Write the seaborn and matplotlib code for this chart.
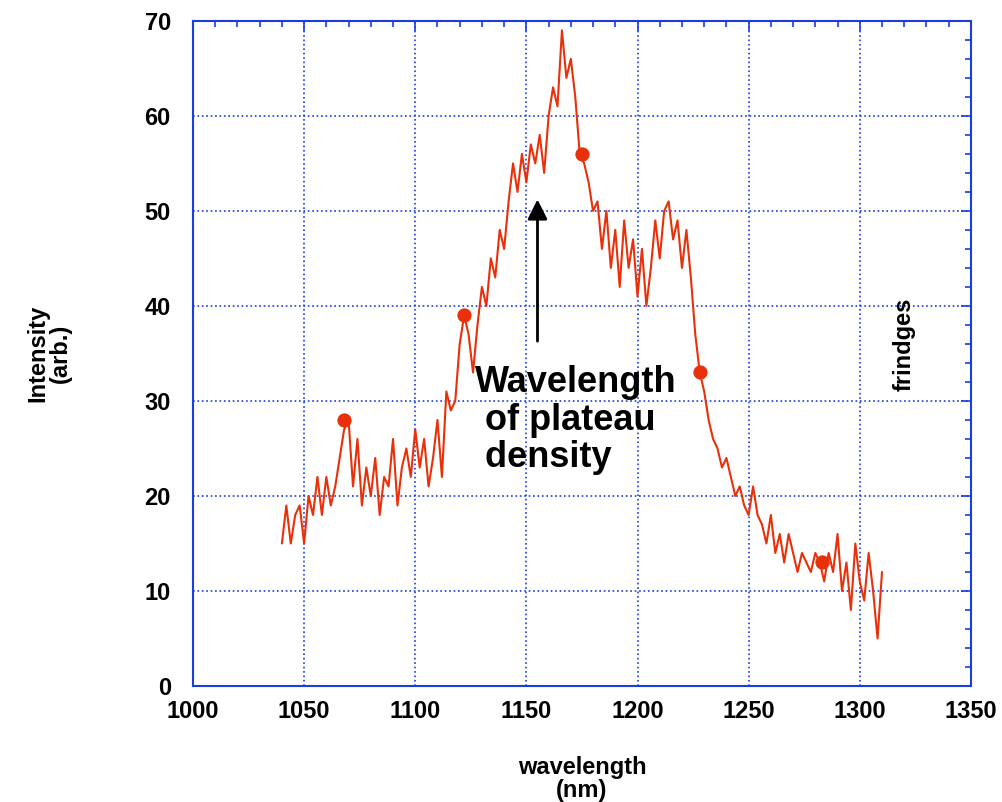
import numpy as np
import pandas as pd
import matplotlib
matplotlib.use('Agg')
import matplotlib.pyplot as plt
import seaborn as sns
from matplotlib.ticker import MultipleLocator

wavelength = np.arange(1040, 1311, 2)
intensity = [15, 19, 15, 18, 19, 15, 20, 18, 22, 18, 22, 19, 21, 24, 27, 28, 21, 26, 19, 23,
             20, 24, 18, 22, 21, 26, 19, 23, 25, 22, 27, 23, 26, 21, 24, 28, 22, 31, 29, 30,
             36, 39, 37, 33, 38, 42, 40, 45, 43, 48, 46, 51, 55, 52, 56, 53, 57, 55, 58, 54,
             60, 63, 61, 69, 64, 66, 62, 56, 55, 53, 50, 51, 46, 50, 44, 48, 42, 49, 44, 47,
             41, 46, 40, 44, 49, 45, 50, 51, 47, 49, 44, 48, 43, 37, 33, 31, 28, 26, 25, 23,
             24, 22, 20, 21, 19, 18, 21, 18, 17, 15, 18, 14, 16, 13, 16, 14, 12, 14, 13, 12,
             14, 13, 11, 14, 12, 16, 10, 13, 8, 15, 11, 9, 14, 10, 5, 12]
marker_x = [1068, 1122, 1175, 1228, 1283]
marker_y = [28, 39, 56, 33, 13]

df = pd.DataFrame({'wavelength': wavelength, 'intensity': intensity})
dfm = pd.DataFrame({'wavelength': marker_x, 'intensity': marker_y})

sns.set_style('white')
plt.rcParams['font.family'] = ['Liberation Sans', 'DejaVu Sans']
plt.rcParams['text.color'] = 'black'
plt.rcParams['axes.labelcolor'] = 'black'
plt.rcParams['xtick.labelcolor'] = 'black'
plt.rcParams['ytick.labelcolor'] = 'black'
fig = plt.figure(figsize=(10.03, 8.02), dpi=100)
ax = fig.add_axes([0.1924, 0.1446, 0.7756, 0.8294])

red = '#e8300a'
blue = '#1a3de0'
sns.lineplot(data=df, x='wavelength', y='intensity', color=red, lw=1.5, ax=ax)
sns.scatterplot(data=dfm, x='wavelength', y='intensity', color=red, s=90, edgecolor=red, ax=ax, zorder=3)

ax.set_xlim(1000, 1350)
ax.set_ylim(0, 70)
ax.xaxis.set_major_locator(MultipleLocator(50))
ax.xaxis.set_minor_locator(MultipleLocator(10))
ax.yaxis.set_major_locator(MultipleLocator(10))
ax.yaxis.set_minor_locator(MultipleLocator(2))
ax.grid(True, which='major', color=blue, linestyle=':', lw=1.2)
for s in ax.spines.values():
    s.set_color(blue)
    s.set_linewidth(1.5)
ax.tick_params(which='both', direction='in', top=True, right=True, color=blue,
               labelsize=17, width=1.2)
ax.tick_params(which='major', length=7)
ax.tick_params(which='minor', length=4)
ax.tick_params(axis='y', pad=16)
ax.tick_params(axis='x', pad=10)
for lbl in ax.get_xticklabels() + ax.get_yticklabels():
    lbl.set_fontweight('bold')

ax.set_xlabel('wavelength\n(nm)', fontsize=17, fontweight='bold', labelpad=24, linespacing=1.0)
ax.set_ylabel('Intensity\n(arb.)', fontsize=17, fontweight='bold', labelpad=52, linespacing=1.0)

ax.annotate('', xy=(1155, 51.5), xytext=(1155, 36),
            arrowprops=dict(arrowstyle='-|>', color='black', lw=2, mutation_scale=30))
ax.text(1127, 33.8, 'Wavelength\n of plateau\n density', fontsize=26, fontweight='bold',
        va='top', ha='left', linespacing=1.1)
ax.text(1320, 36, 'frindges', fontsize=17, fontweight='bold', rotation=90, ha='center', va='center')

fig.savefig('out.png', dpi=100)
